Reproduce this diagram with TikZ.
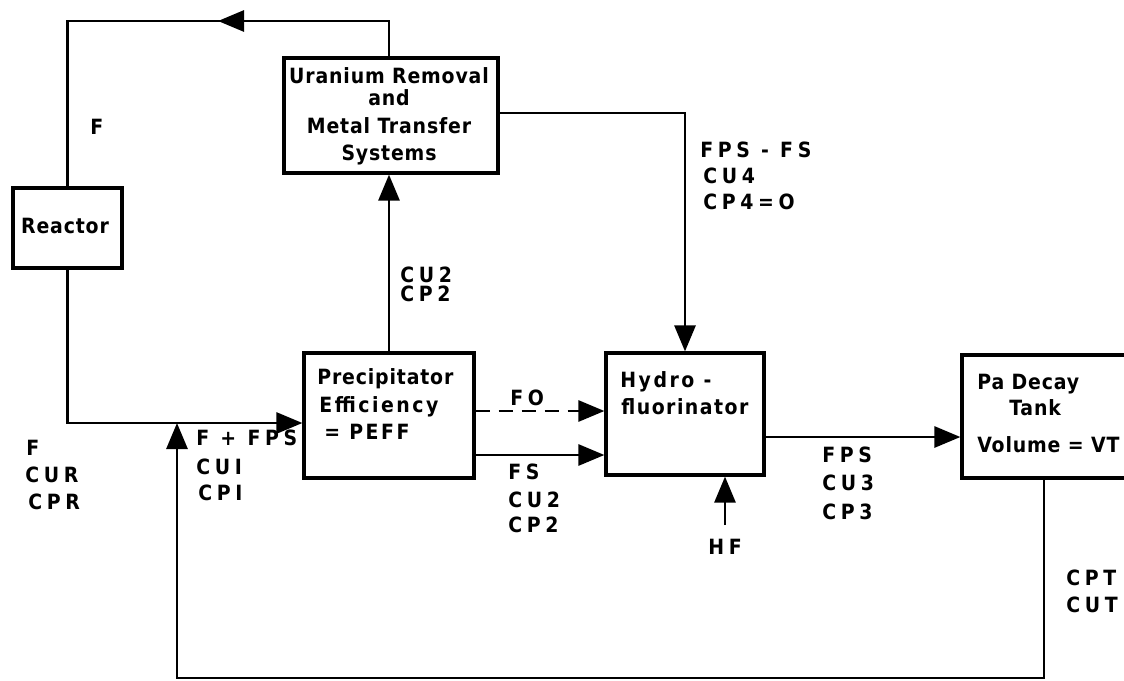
\documentclass[tikz,border=0pt]{standalone}
\usepackage{fontspec}
\setmainfont{DejaVu Sans}
\newfontfamily\bxf[LetterSpace=4]{DejaVu Sans Condensed Bold}
\newfontfamily\bxm[LetterSpace=7]{DejaVu Sans Condensed Bold}
\newfontfamily\bxw[LetterSpace=12]{DejaVu Sans Condensed Bold}
\newfontfamily\lbf[LetterSpace=22]{DejaVu Sans Condensed Bold}
\usetikzlibrary{arrows.meta,calc}
\begin{document}
\begin{tikzpicture}[x=1pt,y=-1pt,
  line width=2.8pt,
  box/.style={draw, rectangle, inner sep=0pt, line width=3.2pt},
  flow/.style={-{Triangle[length=26pt,width=21pt]}},
  lbl/.style={font=\lbf\fontsize{21}{25}\selectfont, inner sep=0pt, anchor=west, text height=15pt, text depth=0pt},
  btx/.style={font=\bxf\fontsize{21}{25}\selectfont, inner sep=0pt, anchor=west, text height=15pt, text depth=0pt},
  btm/.style={btx, font=\bxm\fontsize{21}{25}\selectfont},
  btw/.style={btx, font=\bxw\fontsize{21}{25}\selectfont}]
\useasboundingbox (0,0) rectangle (1124,680);

% boxes
\node[box, minimum width=109pt, minimum height=80pt] (reactor) at (67.5,228) {};
\node[btx, anchor=center] (treactor) at (65,226) {Reactor};
\node[box, minimum width=214pt, minimum height=115pt] (urmt) at (391,115.5) {};
\node[btx, anchor=center] (u1) at (389,76) {Uranium Removal};
\node[btx, anchor=center] (u2) at (389,98) {and};
\node[btx, anchor=center] (u3) at (389,126) {Metal Transfer};
\node[btx, anchor=center] (u4) at (389,153) {Systems};
\node[box, minimum width=170pt, minimum height=125pt] (prec) at (389,415.5) {};
\node[btx] (p1) at (316,377) {Precipitator};
\node[btw] (p2) at (318,405) {Efficiency};
\node[btw] (p3) at (323,432) {= PEFF};
\node[box, minimum width=158pt, minimum height=122pt] (hydro) at (685,414) {};
\node[btw] (h1) at (619,380) {Hydro -};
\node[btm] (h2) at (620,407) {fluorinator};
\node[box, minimum width=164pt, minimum height=123pt] (tank) at (1044,416.5) {};
\node[btx] (t1) at (976,382) {Pa Decay};
\node[btx] (t2) at (1008,408) {Tank};
\node[btx] (t3) at (976,445) {Volume = VT};

% coordinates
\coordinate (topy) at (0,21);
\coordinate (atip) at (218,21);
\coordinate (mainy) at (0,423);
\coordinate (dy) at (0,411);
\coordinate (sy) at (0,455);
\coordinate (oy) at (0,437);
\coordinate (boty) at (0,678);
\coordinate (j) at (177,423);

% connectors
\draw (prec.north |- urmt.north) |- (reactor.north |- topy) -- (reactor.north);
\draw[flow] (prec.north |- topy) -- (atip);
\draw[flow] (prec.north) -- (prec.north |- urmt.south);
\draw[flow] (urmt.east |- 0,113) -| (hydro.north);
\draw[flow] (reactor.south) |- (prec.west |- mainy);
\draw[flow, dash pattern=on 14pt off 9pt] (prec.east |- dy) -- (hydro.west |- dy);
\draw[flow] (prec.east |- sy) -- (hydro.west |- sy);
\draw[flow] (hydro.east |- oy) -- (tank.west |- oy);
\node[lbl, anchor=center] (hf) at (725,547) {HF};
\draw[flow] ($(hf.north)+(0,-13)$) -- (hydro.south -| hf.north);
\draw[flow] (tank.south) |- (j |- boty) -- (j);

% labels
\node[lbl] (lf) at (89,127) {F};
\node[lbl] (lcu2a) at (399,275) {CU2};
\node[lbl] (lcp2a) at (399,294) {CP2};
\node[lbl] (lfpsfs) at (699,150) {FPS - FS};
\node[lbl] (lcu4) at (702,176) {CU4};
\node[lbl] (lcp4) at (702,202) {CP4=O};
\node[lbl] (lf2) at (25,448) {F};
\node[lbl] (lcur) at (24,475) {CUR};
\node[lbl] (lcpr) at (27,502) {CPR};
\node[lbl] (lffps) at (195,438) {F + FPS};
\node[lbl] (lcu1) at (195,467) {CUI};
\node[lbl] (lcp1) at (197,493) {CPI};
\node[lbl] (lfo) at (509,398) {FO};
\node[lbl] (lfs) at (507,472) {FS};
\node[lbl] (lcu2b) at (507,500) {CU2};
\node[lbl] (lcp2b) at (507,525) {CP2};
\node[lbl] (lfps) at (821,455) {FPS};
\node[lbl] (lcu3) at (821,483) {CU3};
\node[lbl] (lcp3) at (821,512) {CP3};
\node[lbl] (lcpt) at (1065,578) {CPT};
\node[lbl] (lcut) at (1065,605) {CUT};
\end{tikzpicture}
\end{document}
